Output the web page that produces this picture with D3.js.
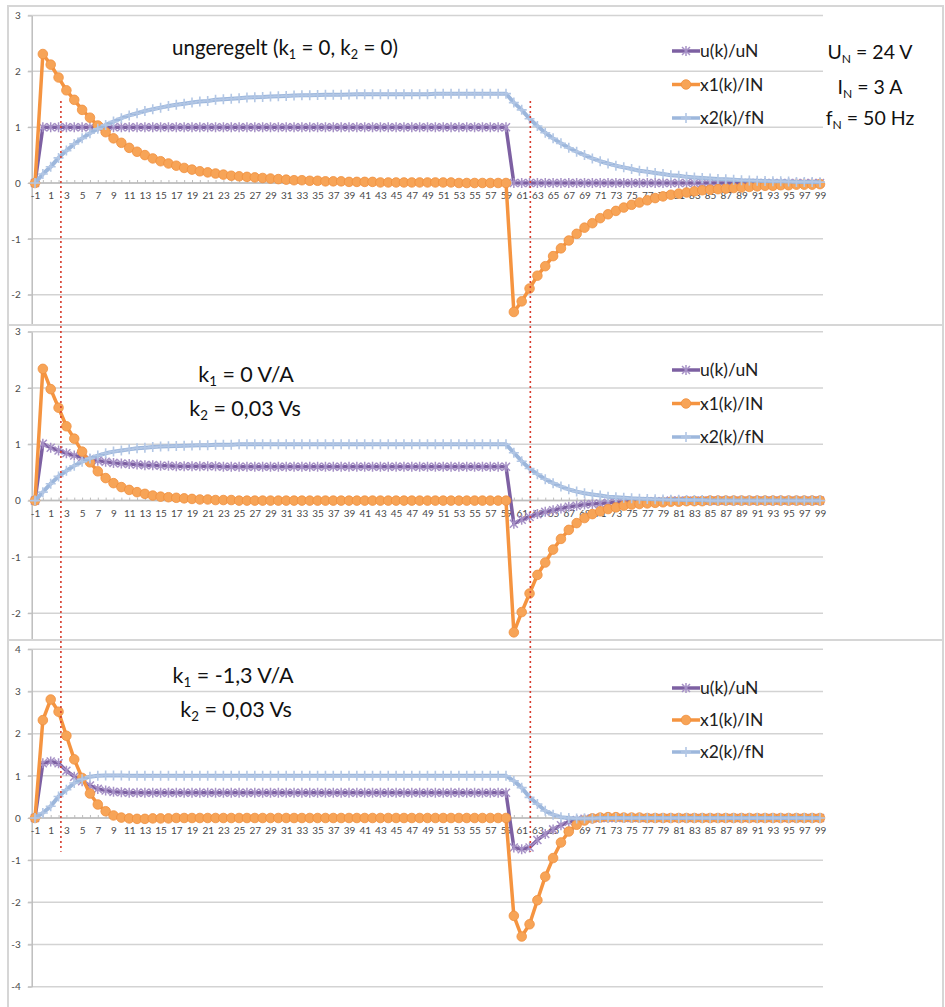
<!DOCTYPE html>
<html>
<head>
<meta charset="utf-8">
<script src="https://cdn.jsdelivr.net/npm/d3@7"></script>
<style>
  body { margin: 0; background: #fff; }
  svg { display: block; }
  text { font-family: Lato, "Open Sans", sans-serif; }
</style>
</head>
<body>
<div id="chart"></div>
<script>
// categories: sampling steps k = -1 .. 99
var steps = d3.range(-1, 100);
var seriesNames = ['u(k)/uN', 'x1(k)/IN', 'x2(k)/fN'];
var yTicks1 = [-3, -2, -1, 0, 1, 2, 3];
var yTicks2 = [-3, -2, -1, 0, 1, 2, 3];
var yTicks3 = [-4, -3, -2, -1, 0, 1, 2, 3, 4];

// panel 1: ungeregelt
var p1U = [0,
  1,1,1,1,1,1,1,1,1,1, 1,1,1,1,1,1,1,1,1,1, 1,1,1,1,1,1,1,1,1,1,
  1,1,1,1,1,1,1,1,1,1, 1,1,1,1,1,1,1,1,1,1, 1,1,1,1,1,1,1,1,1,1,
  0,0,0,0,0,0,0,0,0,0, 0,0,0,0,0,0,0,0,0,0, 0,0,0,0,0,0,0,0,0,0, 0,0,0,0,0,0,0,0,0,0];
var p1X1 = [0,
  2.31,2.12,1.89,1.66,1.49,1.31,1.17,1.03,0.91,0.80,
  0.72,0.63,0.56,0.50,0.44,0.39,0.35,0.31,0.27,0.24,
  0.21,0.19,0.17,0.15,0.13,0.12,0.11,0.10,0.09,0.08,
  0.07,0.06,0.05,0.05,0.04,0.04,0.03,0.03,0.03,0.02,
  0.02,0.02,0.02,0.01,0.01,0.01,0.01,0.01,0.01,0.01,
  0.01,0.01,0.01,0,0,0,0,0,0,0,
  -2.31,-2.12,-1.89,-1.66,-1.49,-1.31,-1.17,-1.03,-0.91,-0.80,
  -0.72,-0.63,-0.56,-0.50,-0.44,-0.39,-0.35,-0.31,-0.27,-0.24,
  -0.21,-0.19,-0.17,-0.15,-0.13,-0.12,-0.11,-0.10,-0.09,-0.08,
  -0.07,-0.06,-0.05,-0.05,-0.04,-0.04,-0.03,-0.03,-0.03,-0.02];
var p1X2 = [0,
  0.16,0.29,0.45,0.58,0.70,0.80,0.89,0.97,1.04,1.10,
  1.16,1.21,1.25,1.29,1.32,1.35,1.38,1.40,1.42,1.44,
  1.46,1.47,1.49,1.50,1.51,1.52,1.53,1.535,1.54,1.55,
  1.555,1.56,1.565,1.57,1.57,1.575,1.58,1.58,1.58,1.585,
  1.59,1.59,1.59,1.59,1.59,1.59,1.59,1.59,1.59,1.59,
  1.6,1.6,1.6,1.6,1.6,1.6,1.6,1.6,1.6,1.6,
  1.44,1.31,1.15,1.02,0.90,0.80,0.71,0.63,0.56,0.50,
  0.44,0.39,0.35,0.31,0.28,0.25,0.22,0.20,0.18,0.16,
  0.14,0.13,0.11,0.10,0.09,0.08,0.07,0.065,0.06,0.05,
  0.045,0.04,0.035,0.03,0.03,0.025,0.02,0.02,0.02,0.015];

// panel 2: k1 = 0 V/A, k2 = 0,03 Vs
var p2U = [0,
  1.01,0.94,0.89,0.84,0.80,0.77,0.74,0.71,0.69,0.67,
  0.66,0.65,0.64,0.63,0.63,0.62,0.62,0.61,0.61,0.61,
  0.61,0.61,0.61,0.60,0.60,0.60,0.60,0.60,0.60,0.60,
  0.60,0.60,0.60,0.60,0.60,0.60,0.60,0.60,0.60,0.60,
  0.60,0.60,0.60,0.60,0.60,0.60,0.60,0.60,0.60,0.60,
  0.60,0.60,0.60,0.60,0.60,0.60,0.60,0.60,0.60,0.60,
  -0.41,-0.34,-0.29,-0.24,-0.20,-0.17,-0.14,-0.11,-0.09,-0.07,
  -0.06,-0.05,-0.04,-0.03,-0.03,-0.02,-0.02,-0.01,-0.01,-0.01,
  0,0,0,0,0,0,0,0,0,0, 0,0,0,0,0,0,0,0,0,0];
var p2X1 = [0,
  2.34,1.98,1.65,1.32,1.10,0.87,0.68,0.52,0.40,0.31,
  0.24,0.19,0.15,0.12,0.09,0.07,0.06,0.05,0.04,0.03,
  0.02,0.02,0.01,0.01,0.01,0,0,0,0,0,
  0,0,0,0,0,0,0,0,0,0, 0,0,0,0,0,0,0,0,0,0, 0,0,0,0,0,0,0,0,0,0,
  -2.34,-1.98,-1.65,-1.32,-1.10,-0.87,-0.68,-0.52,-0.40,-0.31,
  -0.24,-0.19,-0.15,-0.12,-0.09,-0.07,-0.06,-0.05,-0.04,-0.03,
  -0.02,-0.02,-0.01,-0.01,-0.01,0,0,0,0,0,
  0,0,0,0,0,0,0,0,0,0];
var p2X2 = [0,
  0.15,0.30,0.43,0.53,0.62,0.69,0.75,0.80,0.84,0.87,
  0.89,0.91,0.93,0.94,0.95,0.96,0.965,0.97,0.975,0.98,
  0.985,0.985,0.99,0.99,0.99,1,1,1,1,1,
  1,1,1,1,1,1,1,1,1,1, 1,1,1,1,1,1,1,1,1,1, 1,1,1,1,1,1,1,1,1,1,
  0.85,0.70,0.57,0.47,0.38,0.31,0.25,0.20,0.16,0.13,
  0.11,0.09,0.07,0.06,0.05,0.04,0.035,0.03,0.025,0.02,
  0.015,0.015,0.01,0.01,0.01,0,0,0,0,0,
  0,0,0,0,0,0,0,0,0,0];

// panel 3: k1 = -1,3 V/A, k2 = 0,03 Vs
var p3U = [0,
  1.30,1.34,1.30,1.12,0.98,0.87,0.77,0.69,0.65,0.62,
  0.61,0.60,0.60,0.60,0.60,0.60,0.60,0.60,0.60,0.60,
  0.60,0.60,0.60,0.60,0.60,0.60,0.60,0.60,0.60,0.60,
  0.60,0.60,0.60,0.60,0.60,0.60,0.60,0.60,0.60,0.60,
  0.60,0.60,0.60,0.60,0.60,0.60,0.60,0.60,0.60,0.60,
  0.60,0.60,0.60,0.60,0.60,0.60,0.60,0.60,0.60,0.60,
  -0.70,-0.74,-0.70,-0.52,-0.38,-0.27,-0.17,-0.09,-0.05,-0.02,
  -0.01,0,0,0,0,0,0,0,0,0,
  0,0,0,0,0,0,0,0,0,0, 0,0,0,0,0,0,0,0,0,0];
var p3X1 = [0,
  2.32,2.81,2.52,1.95,1.39,0.95,0.58,0.32,0.16,0.06,
  0.01,-0.01,-0.02,-0.02,-0.01,-0.01,-0.01,0,0,0,
  0,0,0,0,0,0,0,0,0,0, 0,0,0,0,0,0,0,0,0,0,
  0,0,0,0,0,0,0,0,0,0, 0,0,0,0,0,0,0,0,0,0,
  -2.32,-2.81,-2.52,-1.95,-1.39,-0.95,-0.58,-0.32,-0.16,-0.06,
  -0.01,0.01,0.02,0.02,0.01,0.01,0.01,0,0,0,
  0,0,0,0,0,0,0,0,0,0, 0,0,0,0,0,0,0,0,0,0];
var p3X2 = [0,
  0.12,0.28,0.51,0.67,0.83,0.92,0.98,1.00,1.01,1.01,
  1.01,1.00,1,1,1,1,1,1,1,1,
  1,1,1,1,1,1,1,1,1,1, 1,1,1,1,1,1,1,1,1,1,
  1,1,1,1,1,1,1,1,1,1, 1,1,1,1,1,1,1,1,1,1,
  0.88,0.72,0.49,0.33,0.17,0.08,0.02,0,-0.01,-0.01,
  -0.01,0,0,0,0,0,0,0,0,0,
  0,0,0,0,0,0,0,0,0,0, 0,0,0,0,0,0,0,0,0,0];

// hand-drawn red dotted markers (in steps k)
var markedSteps = [2.3, 62.1];

var lineColors = ['#7d60a2', '#f59440', '#9db7dc'];
var markColors = ['#a691c6', '#f7a457', '#b3c7e5'];

var svg = d3.select('#chart').append('svg')
  .attr('width', 945)
  .attr('height', 1007);

var x = d3.scaleLinear().domain([-1, 99]).range([35, 820]);

var panels = [
  { series: [p1U, p1X1, p1X2], ticks: yTicks1, top: 6, bottom: 325, range: [350.5, 15.5], legendY: 51, legendGap: 33.5,
    notes: [
      { x: 285, y: 55, size: 20.5, parts: [['ungeregelt (k'], ['1', 1], [' = 0, k'], ['2', 1], [' = 0)']] },
      { x: 870, y: 59, size: 19.5, parts: [['U'], ['N', 1], [' = 24 V']] },
      { x: 870, y: 94, size: 19.5, parts: [['I'], ['N', 1], [' = 3 A']] },
      { x: 870, y: 125, size: 19.5, parts: [['f'], ['N', 1], [' = 50 Hz']] }
    ] },
  { series: [p2U, p2X1, p2X2], ticks: yTicks2, top: 325, bottom: 640, range: [669.5, 331.7], legendY: 370, legendGap: 33.5,
    notes: [
      { x: 246, y: 382, size: 21.5, parts: [['k'], ['1', 1], [' = 0 V/A']] },
      { x: 245, y: 416, size: 21.5, parts: [['k'], ['2', 1], [' = 0,03 Vs']] }
    ] },
  { series: [p3U, p3X1, p3X2], ticks: yTicks3, top: 640, bottom: 1012, range: [986.7, 649.3], legendY: 688, legendGap: 32,
    notes: [
      { x: 233, y: 683, size: 21.5, parts: [['k'], ['1', 1], [' = -1,3 V/A']] },
      { x: 236, y: 717, size: 21.5, parts: [['k'], ['2', 1], [' = 0,03 Vs']] }
    ] }
];

// marker shapes
function drawMarker(sel, type) {
  if (type === 1) {
    sel.append('circle').attr('r', 4.8)
      .attr('fill', markColors[1]).attr('stroke', '#f08f3e').attr('stroke-width', 0.8);
  } else if (type === 0) {
    sel.append('path').attr('d', 'M0,-5V5M-4,-4L4,4M-4,4L4,-4')
      .attr('stroke', markColors[0]).attr('stroke-width', 1.5).attr('fill', 'none');
  } else {
    sel.append('path').attr('d', 'M-5,0H5M0,-5V5')
      .attr('stroke', markColors[2]).attr('stroke-width', 1.6).attr('fill', 'none');
  }
}

function addNote(g, n) {
  var t = g.append('text')
    .attr('x', n.x).attr('y', n.y)
    .attr('text-anchor', 'middle')
    .style('font-size', n.size + 'px')
    .attr('fill', '#111');
  var shifted = false;
  n.parts.forEach(function (p) {
    var ts = t.append('tspan').text(p[0]);
    if (p[1]) {
      ts.style('font-size', (n.size * 0.62) + 'px').attr('dy', 4);
      shifted = true;
    } else if (shifted) {
      ts.attr('dy', -4);
      shifted = false;
    }
  });
}

var yScales = [];

panels.forEach(function (p, pi) {
  var y = d3.scaleLinear().domain(d3.extent(p.ticks)).range(p.range);
  yScales.push(y);

  svg.append('clipPath').attr('id', 'clip' + pi)
    .append('rect').attr('x', 8).attr('y', p.top).attr('width', 936).attr('height', p.bottom - p.top);

  var g = svg.append('g').attr('clip-path', 'url(#clip' + pi + ')');

  // gridlines
  g.selectAll('.grid').data(p.ticks).enter().append('line')
    .attr('x1', 28).attr('x2', 823)
    .attr('y1', function (d) { return y(d); })
    .attr('y2', function (d) { return y(d); })
    .attr('stroke', '#d3d3d3').attr('stroke-width', 1.5);

  // y axis
  var yAxis = g.append('g').attr('transform', 'translate(31.7,0)')
    .call(d3.axisLeft(y).tickValues(p.ticks).tickSizeInner(4).tickSizeOuter(0).tickPadding(7)
      .tickFormat(function (d) { return String(d); }));

  // x axis at zero
  var xAxis = g.append('g').attr('transform', 'translate(0,' + y(0) + ')')
    .call(d3.axisBottom(x).tickValues(steps).tickSizeInner(-3).tickSizeOuter(0).tickPadding(9)
      .tickFormat(function (k) { return k % 2 !== 0 ? String(k) : ''; }));
  xAxis.select('.domain').attr('d', 'M31.7,0H823');

  [yAxis, xAxis].forEach(function (ax) {
    ax.attr('font-family', 'Lato, sans-serif').attr('font-size', 10);
    ax.select('.domain').attr('stroke', '#bdbdbd').attr('stroke-width', 1.5);
    ax.selectAll('.tick line').attr('stroke', '#bdbdbd').attr('stroke-width', 1);
    ax.selectAll('.tick text').attr('fill', '#4a4a4a');
  });

  // series
  var line = d3.line()
    .x(function (d, i) { return x(steps[i]); })
    .y(function (d) { return y(d); });

  p.series.forEach(function (values, si) {
    g.append('path').datum(values)
      .attr('d', line)
      .attr('fill', 'none')
      .attr('stroke', lineColors[si])
      .attr('stroke-width', si === 2 ? 4 : 3.5)
      .attr('stroke-linejoin', 'round');

    var marks = g.append('g').selectAll('g').data(values).enter().append('g')
      .attr('transform', function (d, i) { return 'translate(' + x(steps[i]) + ',' + y(d) + ')'; });
    drawMarker(marks, si);
  });

  // legend
  var legend = g.append('g').attr('transform', 'translate(672,' + p.legendY + ')');
  var items = legend.selectAll('.legendItem').data(seriesNames).enter().append('g')
    .attr('transform', function (d, i) { return 'translate(0,' + (i * p.legendGap) + ')'; });
  items.append('line').attr('x1', 0).attr('x2', 28)
    .attr('stroke', function (d, i) { return lineColors[i]; })
    .attr('stroke-width', 3.5);
  items.each(function (d, i) {
    drawMarker(d3.select(this).append('g').attr('transform', 'translate(14,0)'), i);
  });
  items.append('text').attr('x', 28).attr('dy', '0.35em')
    .text(function (d) { return d; })
    .style('font-size', '17.5px').attr('fill', '#222');

  p.notes.forEach(function (n) { addNote(g, n); });

  // panel frame
  svg.append('rect').attr('x', 8).attr('y', p.top).attr('width', 935).attr('height', p.bottom - p.top)
    .attr('fill', 'none').attr('stroke', '#d6d6d6').attr('stroke-width', 2);
});

// red dotted vertical markers spanning all panels
svg.selectAll('.marker').data(markedSteps).enter().append('line')
  .attr('x1', function (d) { return x(d); })
  .attr('x2', function (d) { return x(d); })
  .attr('y1', yScales[0](1.47))
  .attr('y2', yScales[2](-0.8))
  .attr('stroke', '#d83a2c')
  .attr('stroke-width', 1.6)
  .attr('stroke-dasharray', '2,3');
</script>
</body>
</html>
